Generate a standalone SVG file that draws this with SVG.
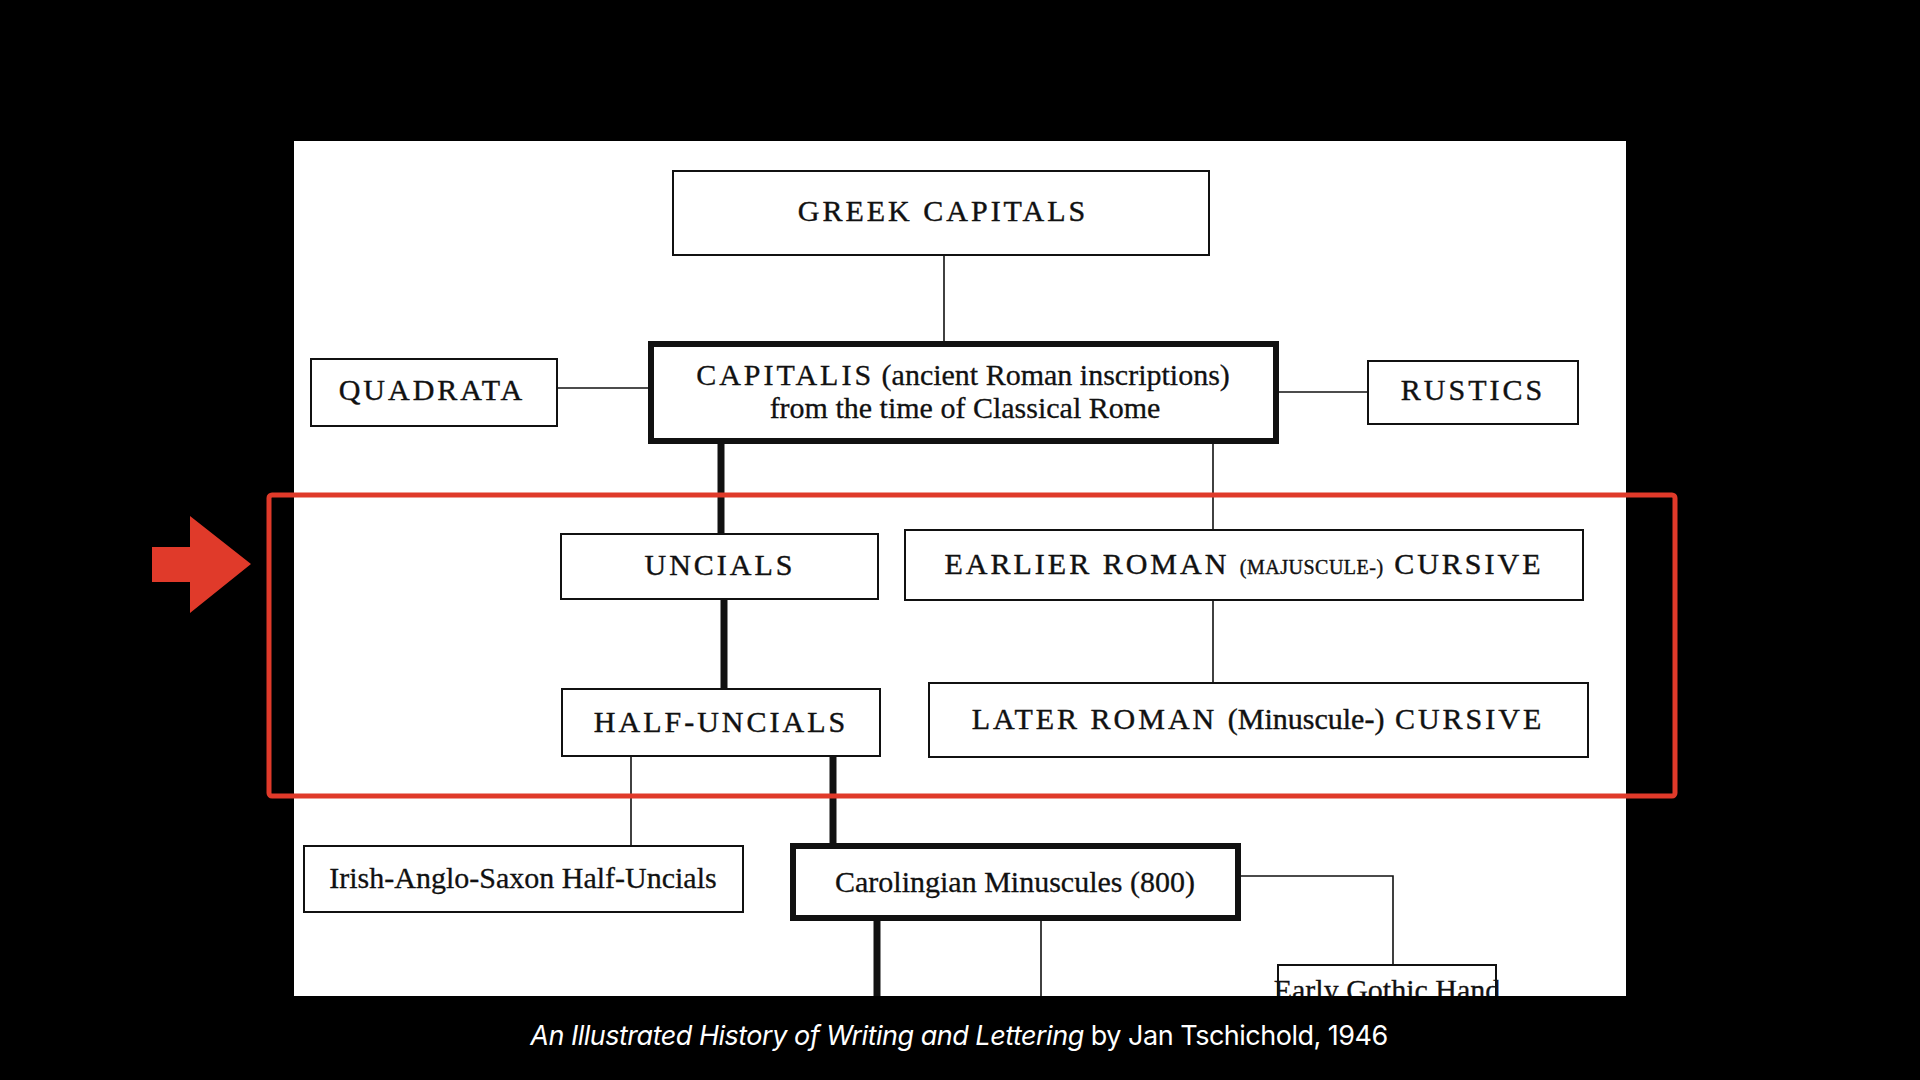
<svg xmlns="http://www.w3.org/2000/svg" width="1920" height="1080" viewBox="0 0 1920 1080">
<style>
.b{fill:#fff;stroke:#111;stroke-width:2}
.bt{fill:#fff;stroke:#111;stroke-width:6}
.l{stroke:#111;stroke-width:1.6;fill:none}
.lt{stroke:#111;stroke-width:7;fill:none}
.t{font-family:"Liberation Serif",serif;fill:#111;text-anchor:middle;font-size:30px;letter-spacing:3px;stroke:#111;stroke-width:0.4}
.s{font-family:"Liberation Serif",serif;fill:#111;text-anchor:middle;font-size:30px;stroke:#111;stroke-width:0.3}
</style>
<defs><clipPath id="pc"><rect x="294" y="141" width="1332" height="855"/></clipPath></defs>
<rect width="1920" height="1080" fill="#000"/>
<rect x="294" y="141" width="1332" height="855" fill="#fff"/>
<g clip-path="url(#pc)">
<g id="connectors">
<line class="l" x1="944" y1="255" x2="944" y2="344"/>
<line class="l" x1="557" y1="388" x2="651" y2="388"/>
<line class="l" x1="1276" y1="392" x2="1368" y2="392"/>
<line class="lt" x1="721" y1="441" x2="721" y2="534"/>
<line class="l" x1="1213" y1="441" x2="1213" y2="530"/>
<line class="lt" x1="724" y1="599" x2="724" y2="689"/>
<line class="l" x1="1213" y1="600" x2="1213" y2="683"/>
<line class="l" x1="631" y1="756" x2="631" y2="846"/>
<line class="lt" x1="833" y1="756" x2="833" y2="846"/>
<polyline class="l" points="1238,876 1393,876 1393,965"/>
<line class="lt" x1="877" y1="918" x2="877" y2="996"/>
<line class="l" x1="1041" y1="918" x2="1041" y2="996"/>
</g>
<g id="greek"><rect class="b" x="673" y="171" width="536" height="84"/><text class="t" x="943" y="221">GREEK CAPITALS</text></g>
<g id="capitalis"><rect class="bt" x="651" y="344" width="625" height="97"/>
<text class="s" x="963" y="385"><tspan letter-spacing="3">CAPITALIS</tspan> (ancient Roman inscriptions)</text>
<text class="s" x="965" y="418">from the time of Classical Rome</text></g>
<g id="quadrata"><rect class="b" x="311" y="359" width="246" height="67"/><text class="t" x="432" y="400">QUADRATA</text></g>
<g id="rustics"><rect class="b" x="1368" y="361" width="210" height="63"/><text class="t" x="1473" y="400">RUSTICS</text></g>
<g id="uncials"><rect class="b" x="561" y="534" width="317" height="65"/><text class="t" x="720" y="575">UNCIALS</text></g>
<g id="earlier"><rect class="b" x="905" y="530" width="678" height="70"/><text class="t" x="1244" y="574" letter-spacing="1">EARLIER ROMAN <tspan font-size="20" letter-spacing="0.5">(MAJUSCULE-)</tspan> CURSIVE</text></g>
<g id="halfuncials"><rect class="b" x="562" y="689" width="318" height="67"/><text class="t" x="721" y="732" letter-spacing="2">HALF-UNCIALS</text></g>
<g id="later"><rect class="b" x="929" y="683" width="659" height="74"/><text class="t" x="1258" y="729" letter-spacing="1">LATER ROMAN <tspan letter-spacing="0">(Minuscule-)</tspan> CURSIVE</text></g>
<g id="irish"><rect class="b" x="304" y="846" width="439" height="66"/><text class="s" x="523" y="888">Irish-Anglo-Saxon Half-Uncials</text></g>
<g id="carolingian"><rect class="bt" x="793" y="846" width="445" height="72"/><text class="s" x="1015" y="892">Carolingian Minuscules (800)</text></g>
<g id="gothic"><rect class="b" x="1278" y="965" width="218" height="60"/><text class="s" x="1387" y="1000" font-size="24">Early Gothic Hand</text></g>
</g>
<rect x="269" y="495" width="1406" height="301" fill="none" stroke="#e03a2a" stroke-width="5" rx="3"/>
<polygon points="152,547 190,547 190,516 251,564 190,613 190,582 152,582" fill="#e03a2a"/>
<text x="959" y="1045" font-family="Inter,'Liberation Sans',sans-serif" font-size="27" fill="#fff" text-anchor="middle" letter-spacing="-0.5"><tspan font-style="italic">An Illustrated History of Writing and Lettering</tspan> by Jan Tschichold, 1946</text>
</svg>
